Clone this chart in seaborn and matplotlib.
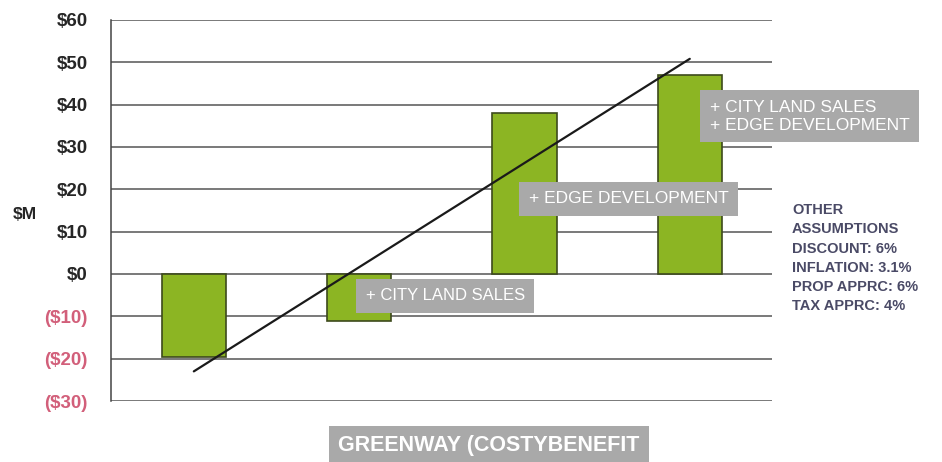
import matplotlib
matplotlib.use("Agg")
import matplotlib.pyplot as plt
import seaborn as sns
import pandas as pd

scenarios = ["Greenway", "+ City Land Sales", "+ Edge Development", "+ Both"]
values = [-19.5, -11, 38, 47]
trend_x = [0, 3]
trend_y = [-23, 50.8]
tick_vals = [60, 50, 40, 30, 20, 10, 0, -10, -20, -30]
tick_labels = ["$60", "$50", "$40", "$30", "$20", "$10", "$0", "($10)", "($20)", "($30)"]
assumptions = ["OTHER", "ASSUMPTIONS", "DISCOUNT: 6%", "INFLATION: 3.1%", "PROP APPRC: 6%", "TAX APPRC: 4%"]

sns.set_theme(style="white")
plt.rcParams['font.family'] = ['Liberation Sans', 'DejaVu Sans']

df = pd.DataFrame({"scenario": scenarios, "value": values})

fig = plt.figure(figsize=(9.42, 4.62), dpi=100)
ax = fig.add_axes([0.118, 0.132, 0.702, 0.825])

for v in tick_vals:
    ax.axhline(v, color="#555555", lw=1.1, zorder=0)

sns.barplot(data=df, x="scenario", y="value", color="#8cb523", width=0.39,
            edgecolor="#3d4a1c", linewidth=1.2, saturation=1, ax=ax, zorder=2)
ax.plot(trend_x, trend_y, color="#1a1a1a", lw=1.6, zorder=3)

ax.set_xlim(-0.5, 3.5)
ax.set_ylim(-30, 60)
ax.set_yticks(tick_vals)
ax.set_yticklabels(tick_labels, fontsize=13.5, fontweight="heavy")
for lbl, v in zip(ax.get_yticklabels(), tick_vals):
    lbl.set_color("#d25f7a" if v < 0 else "#262626")
ax.tick_params(axis="y", length=5, color="#555555", pad=12)
ax.set_xticks([])
ax.set_xlabel("")
ax.set_ylabel("")
for s in ["top", "right", "bottom"]:
    ax.spines[s].set_visible(False)
ax.spines["left"].set_color("#444444")
ax.spines["left"].set_linewidth(1.1)

fig.text(0.026, 0.535, "$M", fontsize=12.5, fontweight="heavy", color="#262626",
         ha="center", va="center")

box = dict(boxstyle="square,pad=0.55", fc="#a9a9a9", ec="none")
ax.text(1.52, -5.2, "+ CITY LAND SALES", color="white", fontsize=12,
        ha="center", va="center", bbox=box, zorder=4)
ax.text(2.63, 17.8, "+ EDGE DEVELOPMENT", color="white", fontsize=12.5,
        ha="center", va="center", bbox=box, zorder=4)
ax.text(3.12, 37.2, "+ CITY LAND SALES\n+ EDGE DEVELOPMENT", color="white", fontsize=12.5,
        ha="left", va="center", linespacing=1.25, bbox=box, zorder=4, clip_on=False)

y0 = 1 - 210 / 462
for i, line in enumerate(assumptions):
    fig.text(792 / 942, y0 - i * 19.3 / 462, line, fontsize=10.5,
             fontweight="bold", color="#4a4a66", ha="left", va="center")

fig.text(0.519, 0.035, "GREENWAY (COSTYBENEFIT", color="white", fontsize=15.5,
         fontweight="bold", ha="center", va="center",
         bbox=dict(boxstyle="square,pad=0.45", fc="#a9a9a9", ec="none"))

fig.savefig("out.png", dpi=100, facecolor="white")
